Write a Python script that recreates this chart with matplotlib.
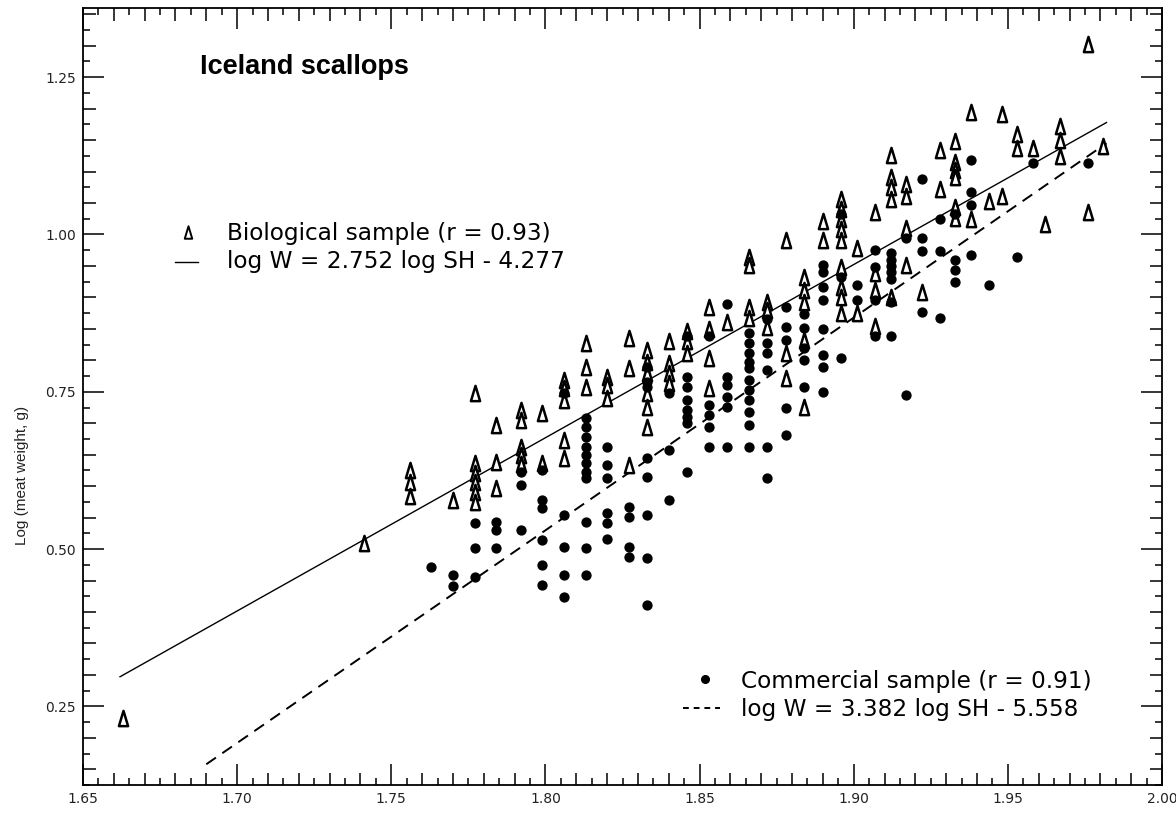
import matplotlib
matplotlib.use("Agg")
import matplotlib.pyplot as plt
from matplotlib.path import Path
from matplotlib.ticker import MultipleLocator, FormatStrFormatter

plt.rcParams['font.family'] = ['DejaVu Sans']

# log shell height columns and log meat weights
bio_sh = [1.663, 1.741, 1.756, 1.770, 1.777, 1.784, 1.792, 1.799, 1.806, 1.813,
          1.820, 1.827, 1.833, 1.840, 1.846, 1.853, 1.859, 1.866, 1.872, 1.878,
          1.884, 1.890, 1.896, 1.901, 1.907, 1.912, 1.917, 1.922, 1.928, 1.933,
          1.938, 1.944, 1.948, 1.953, 1.958, 1.962, 1.967, 1.976, 1.981]
bio_w = [
    [0.232], [0.510], [0.626, 0.606, 0.585], [0.578],
    [0.748, 0.637, 0.621, 0.607, 0.591, 0.575],
    [0.697, 0.639, 0.597],
    [0.721, 0.705, 0.662, 0.650, 0.635],
    [0.716, 0.637],
    [0.769, 0.756, 0.737, 0.674, 0.645],
    [0.828, 0.790, 0.758],
    [0.774, 0.761, 0.740],
    [0.836, 0.788, 0.634],
    [0.817, 0.798, 0.780, 0.748, 0.726, 0.694],
    [0.830, 0.796, 0.780, 0.764],
    [0.846, 0.830, 0.812],
    [0.884, 0.849, 0.804, 0.756],
    [0.861],
    [0.965, 0.952, 0.885, 0.868],
    [0.892, 0.880, 0.853],
    [0.992, 0.812, 0.772],
    [0.933, 0.912, 0.892, 0.833, 0.726],
    [1.021, 0.992],
    [1.056, 1.040, 1.024, 1.008, 0.992, 0.949, 0.917, 0.900, 0.876],
    [0.979, 0.876],
    [1.035, 0.939, 0.912, 0.855],
    [1.127, 1.091, 1.075, 1.056, 0.901],
    [1.080, 1.061, 1.011, 0.952],
    [0.909],
    [1.135, 1.072],
    [1.148, 1.116, 1.103, 1.091, 1.043, 1.026],
    [1.194, 1.024],
    [1.053],
    [1.191, 1.061],
    [1.159, 1.138],
    [1.138],
    [1.016],
    [1.172, 1.150, 1.124],
    [1.303, 1.035],
    [1.140],
]

com_sh = [1.763, 1.770, 1.777, 1.784, 1.792, 1.799, 1.806, 1.813, 1.820, 1.827,
          1.833, 1.840, 1.846, 1.853, 1.859, 1.866, 1.872, 1.878, 1.884, 1.890,
          1.896, 1.901, 1.907, 1.912, 1.917, 1.922, 1.928, 1.933, 1.938, 1.944,
          1.953, 1.958, 1.976]
com_w = [
    [0.471], [0.459, 0.441], [0.541, 0.502, 0.455], [0.543, 0.530, 0.502],
    [0.623, 0.602, 0.530],
    [0.626, 0.578, 0.565, 0.514, 0.475, 0.443],
    [0.748, 0.554, 0.503, 0.459, 0.424],
    [0.709, 0.694, 0.678, 0.662, 0.650, 0.637, 0.623, 0.613, 0.543, 0.502, 0.459],
    [0.662, 0.634, 0.613, 0.557, 0.541, 0.516],
    [0.567, 0.551, 0.503, 0.487],
    [0.790, 0.766, 0.757, 0.645, 0.615, 0.554, 0.486, 0.411],
    [0.748, 0.658, 0.578],
    [0.838, 0.774, 0.758, 0.737, 0.721, 0.710, 0.700, 0.623],
    [0.838, 0.729, 0.713, 0.694, 0.662],
    [0.889, 0.774, 0.760, 0.742, 0.726, 0.662],
    [0.844, 0.828, 0.812, 0.797, 0.788, 0.769, 0.753, 0.737, 0.718, 0.697, 0.662],
    [0.865, 0.828, 0.812, 0.785, 0.662, 0.613],
    [0.885, 0.853, 0.833, 0.725, 0.682],
    [0.873, 0.852, 0.820, 0.801, 0.758],
    [0.952, 0.940, 0.917, 0.896, 0.849, 0.809, 0.790, 0.750],
    [1.033, 0.933, 0.804],
    [0.920, 0.896],
    [0.976, 0.949, 0.896, 0.838],
    [0.971, 0.960, 0.950, 0.940, 0.930, 0.892, 0.838],
    [0.995, 0.745],
    [1.088, 0.995, 0.973, 0.877],
    [1.024, 0.973, 0.868],
    [1.033, 0.960, 0.944, 0.924],
    [1.119, 1.067, 1.047, 0.968],
    [0.920],
    [0.965],
    [1.114],
    [1.114],
]

# regression line end points
bio_fit_sh = [1.662, 1.982]
bio_fit_w = [0.297, 1.178]
com_fit_sh = [1.690, 1.982]
com_fit_w = [0.158, 1.145]


def expand(cols, vals):
    xs, ys = [], []
    for x, col in zip(cols, vals):
        xs += [x] * len(col)
        ys += col
    return xs, ys


bx, by = expand(bio_sh, bio_w)
cx, cy = expand(com_sh, com_w)

tri = Path([(-0.3, -0.5), (0.3, -0.5), (0, 0.5), (-0.3, -0.5)],
           [Path.MOVETO, Path.LINETO, Path.LINETO, Path.CLOSEPOLY])

fig = plt.figure(figsize=(11.76, 8.13), dpi=100)
ax = fig.add_axes([83 / 1176, 1 - 785 / 813, 1079 / 1176, 777 / 813])

ax.plot(bio_fit_sh, bio_fit_w, color='black', lw=1.0, zorder=2)
ax.plot(com_fit_sh, com_fit_w, color='black', lw=1.4, ls=(0, (6, 4)), zorder=2)
ax.plot(bx, by, ls='none', marker=tri, ms=11, mfc='white', mec='black', mew=1.8, zorder=3)
ax.plot(cx, cy, ls='none', marker='o', ms=6.4, color='black', zorder=4)

ax.set_xlim(1.65, 2.0)
ax.set_ylim(0.125, 1.36)
ax.xaxis.set_major_locator(MultipleLocator(0.05))
ax.xaxis.set_minor_locator(MultipleLocator(0.005))
ax.yaxis.set_major_locator(MultipleLocator(0.25))
ax.yaxis.set_minor_locator(MultipleLocator(0.025))
ax.xaxis.set_major_formatter(FormatStrFormatter('%.2f'))
ax.yaxis.set_major_formatter(FormatStrFormatter('%.2f'))
ax.tick_params(which='both', direction='in', top=True, right=True, width=1.1, color='black')
ax.tick_params(which='major', length=15, labelsize=10, pad=5, labelcolor='#222222')
ax.tick_params(which='minor', length=5)
for s in ax.spines.values():
    s.set_linewidth(1.3)

ax.set_ylabel('Log (meat weight, g)', fontsize=11, color='#222222',
              family=['Liberation Sans', 'DejaVu Sans'])
ax.yaxis.set_label_coords(-0.05, 0.399)

ax.text(0.108, 0.915, 'Iceland scallops', transform=ax.transAxes,
        fontsize=19.5, fontweight='bold', va='baseline',
        family=['Liberation Sans', 'DejaVu Sans'])

# legend, biological
ax.plot([0.0973], [0.712], transform=ax.transAxes, marker=tri, ms=9, mfc='white',
        mec='black', mew=1.4, ls='none')
ax.text(0.1335, 0.7014, 'Biological sample (r = 0.93)', transform=ax.transAxes,
        fontsize=16.7, va='baseline')
ax.plot([0.0853, 0.1066], [0.673, 0.673], transform=ax.transAxes, color='black', lw=1.0)
ax.text(0.1335, 0.665, 'log W = 2.752 log SH - 4.277', transform=ax.transAxes,
        fontsize=16.7, va='baseline')

# legend, commercial
ax.plot([0.5765], [0.136], transform=ax.transAxes, marker='o', ms=5.5, color='black', ls='none')
ax.text(0.610, 0.1248, 'Commercial sample (r = 0.91)', transform=ax.transAxes,
        fontsize=16.7, va='baseline')
ax.plot([0.556, 0.590], [0.0991, 0.0991], transform=ax.transAxes, color='black',
        lw=1.4, ls=(0, (3, 2.5)))
ax.text(0.610, 0.0888, 'log W = 3.382 log SH - 5.558', transform=ax.transAxes,
        fontsize=16.7, va='baseline')

# every other minor tick a bit longer (0.01 on x, 0.05 on y)
fig.canvas.draw()
for axis, step in [(ax.xaxis, 0.01), (ax.yaxis, 0.05)]:
    locs = axis.get_minorticklocs()
    ticks = axis.get_minor_ticks(len(locs))
    for loc, t in zip(locs, ticks):
        r = loc / step
        size = 9 if abs(r - round(r)) < 1e-6 else 5
        t.tick1line.set_markersize(size)
        t.tick2line.set_markersize(size)

fig.savefig('out.png', dpi=100)
